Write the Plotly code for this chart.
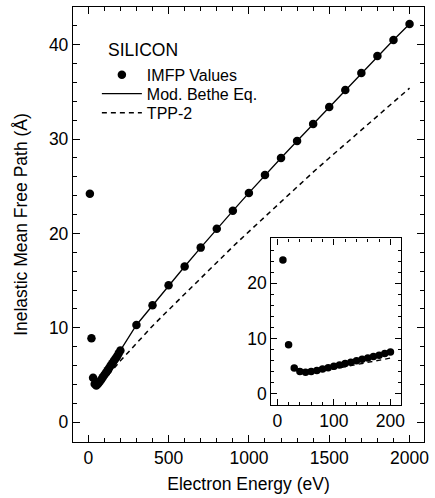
import plotly.graph_objects as go

# ---- data ----
imfp_energy = [10, 20, 30, 40, 50, 60, 70, 80, 90, 100, 110, 120, 130, 140, 150,
               160, 170, 180, 190, 200, 300, 400, 500, 600, 700, 800, 900, 1000,
               1100, 1200, 1300, 1400, 1500, 1600, 1700, 1800, 1900, 2000]
imfp_values = [24.2, 8.9, 4.7, 4.05, 3.9, 4.05, 4.25, 4.5, 4.75, 5.0, 5.25, 5.5,
               5.75, 6.0, 6.25, 6.5, 6.75, 7.0, 7.3, 7.6, 10.3, 12.4, 14.5, 16.5,
               18.5, 20.5, 22.4, 24.3, 26.2, 28.0, 29.8, 31.6, 33.4, 35.2, 37.0,
               38.8, 40.5, 42.2]
bethe_energy = [40, 50, 60, 70, 80, 90, 100, 120, 140, 160, 180, 200, 300, 400, 500,
                600, 700, 800, 900, 1000, 1100, 1200, 1300, 1400, 1500, 1600, 1700,
                1800, 1900, 2000]
bethe_values = [4.05, 3.9, 4.05, 4.25, 4.5, 4.75, 5.0, 5.5, 6.0, 6.5, 7.0, 7.6, 10.3,
                12.4, 14.5, 16.5, 18.5, 20.5, 22.4, 24.3, 26.2, 28.0, 29.8, 31.6,
                33.4, 35.2, 37.0, 38.8, 40.5, 42.2]
tpp2_energy = [50, 100, 200, 300, 400, 500, 600, 700, 800, 900, 1000, 1100, 1200,
               1300, 1400, 1500, 1600, 1700, 1800, 1900, 2000]
tpp2_values = [3.6, 4.5, 6.5, 8.4, 10.2, 11.9, 13.6, 15.3, 17.0, 18.6, 20.2, 21.8,
               23.4, 24.9, 26.5, 28.0, 29.5, 31.0, 32.5, 34.0, 35.4]
inset_max_energy = 200

FONT = "Liberation Sans, Arial, Helvetica, sans-serif"
DASH = "5px,4px"

fig = go.Figure()

# main plot
fig.add_trace(go.Scatter(x=imfp_energy, y=imfp_values, mode="markers",
                         marker=dict(color="black", size=8.5), name="IMFP Values",
                         xaxis="x", yaxis="y", legend="legend"))
fig.add_trace(go.Scatter(x=bethe_energy, y=bethe_values, mode="lines",
                         line=dict(color="black", width=1.3), name="Mod. Bethe Eq.",
                         xaxis="x", yaxis="y", legend="legend2"))
fig.add_trace(go.Scatter(x=tpp2_energy, y=tpp2_values, mode="lines",
                         line=dict(color="black", width=1.5, dash=DASH), name="TPP-2",
                         xaxis="x", yaxis="y", legend="legend3"))

# inset
ie = [e for e in imfp_energy if e <= inset_max_energy]
iv = imfp_values[:len(ie)]
be = [e for e in bethe_energy if e <= inset_max_energy]
bv = bethe_values[:len(be)]
te = [e for e in tpp2_energy if e <= inset_max_energy]
tv = tpp2_values[:len(te)]
fig.add_trace(go.Scatter(x=te, y=tv, mode="lines", showlegend=False,
                         line=dict(color="black", width=1.3, dash=DASH),
                         xaxis="x2", yaxis="y2"))
fig.add_trace(go.Scatter(x=be, y=bv, mode="lines", showlegend=False,
                         line=dict(color="black", width=1.2),
                         xaxis="x2", yaxis="y2"))
fig.add_trace(go.Scatter(x=ie, y=iv, mode="markers", showlegend=False,
                         marker=dict(color="black", size=7.5),
                         xaxis="x2", yaxis="y2"))

axis_common = dict(showgrid=False, zeroline=False, showline=True, linecolor="black",
                   linewidth=1.3, mirror="allticks", ticks="inside",
                   tickcolor="black", tickwidth=1.2,
                   tickfont=dict(family=FONT, size=17.5, color="black"))

legend_common = dict(x=0.068, xanchor="left", yanchor="middle",
                     bgcolor="rgba(0,0,0,0)", font=dict(family=FONT, size=16),
                     itemwidth=40, tracegroupgap=0)

fig.update_layout(
    width=435, height=498,
    margin=dict(l=73, r=8, t=6, b=56),
    paper_bgcolor="white", plot_bgcolor="white",
    font=dict(family=FONT, size=17.5, color="black"),
    xaxis=dict(**axis_common, range=[-95, 2090], tick0=0, dtick=500, ticklen=7,
               minor=dict(dtick=100, ticklen=3.5, ticks="inside", tickcolor="black"),
               title=dict(text="Electron Energy (eV)", standoff=10,
                          font=dict(family=FONT, size=17.5))),
    yaxis=dict(**axis_common, range=[-2.1, 44], tick0=0, dtick=10, ticklen=7,
               minor=dict(dtick=2, ticklen=3.5, ticks="inside", tickcolor="black"),
               title=dict(text="Inelastic Mean Free Path (Å)", standoff=16,
                          font=dict(family=FONT, size=17.5))),
    xaxis2=dict(**axis_common, domain=[0.565, 0.935], anchor="y2", range=[-10.5, 219],
                tick0=0, dtick=100, ticklen=6,
                minor=dict(dtick=20, ticklen=3, ticks="inside", tickcolor="black")),
    yaxis2=dict(**axis_common, domain=[0.085, 0.468], anchor="x2", range=[-2, 28.1],
                tick0=0, dtick=10, ticklen=6,
                minor=dict(dtick=2, ticklen=3, ticks="inside", tickcolor="black")),
    legend=dict(**legend_common, y=0.844),
    legend2=dict(**legend_common, y=0.8005),
    legend3=dict(**legend_common, y=0.7569),
    annotations=[dict(text="SILICON", xref="paper", yref="paper", x=0.095, y=0.902,
                      xanchor="left", yanchor="middle", showarrow=False,
                      font=dict(family=FONT, size=17.5, color="black"))],
)

fig.write_html("out.html")
